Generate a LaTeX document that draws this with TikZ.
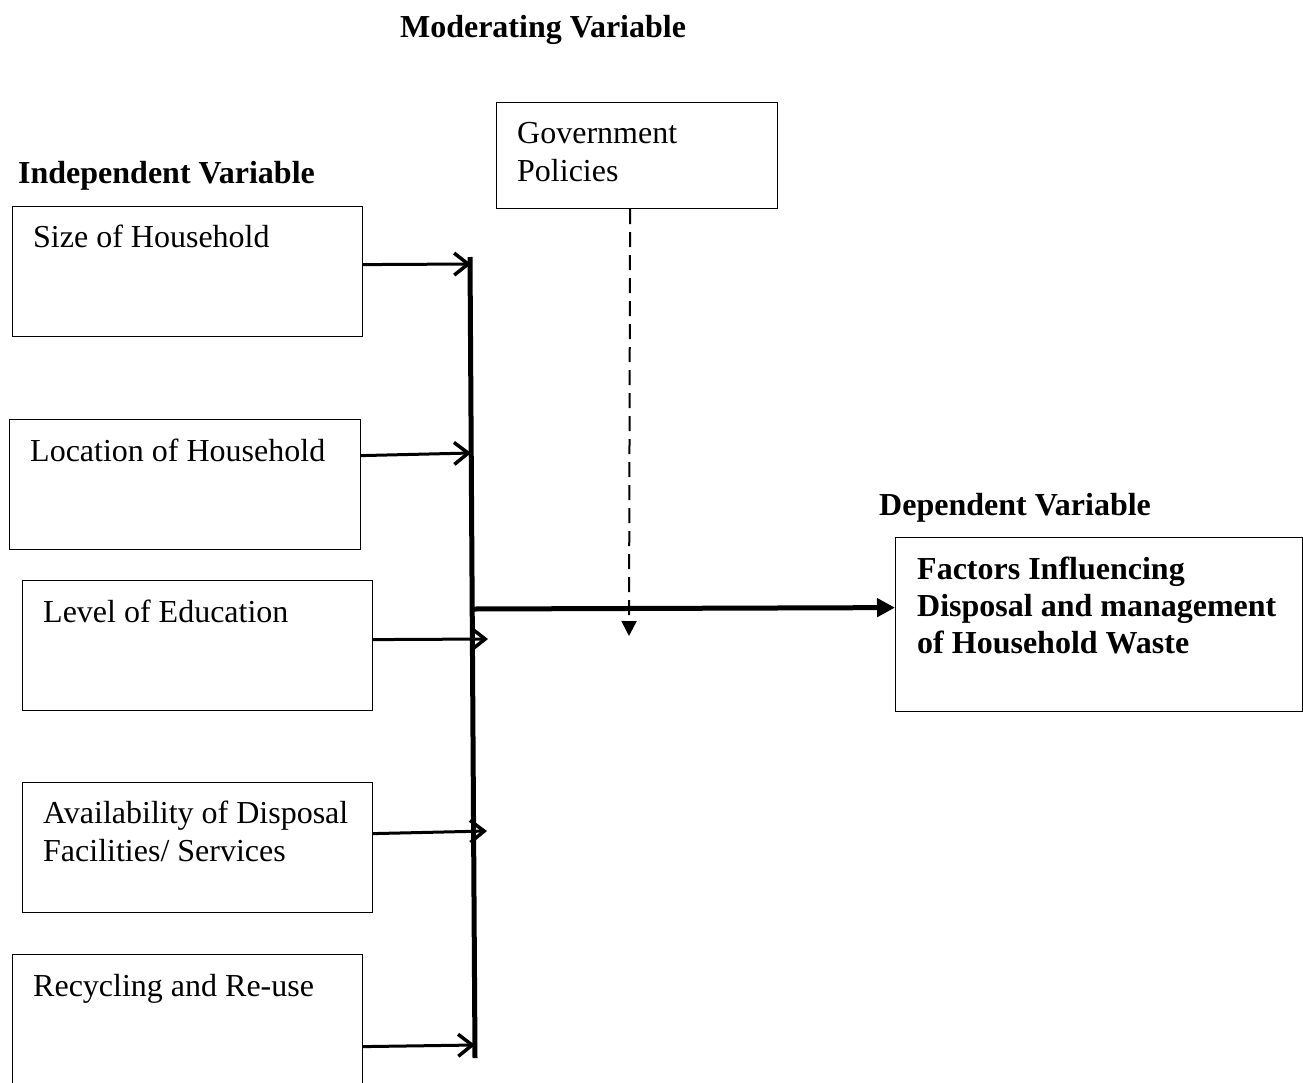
\documentclass[tikz,border=0pt]{standalone}
\usepackage{fontspec}
\setmainfont{Liberation Serif}
\usetikzlibrary{arrows.meta}
\begin{document}
\begin{tikzpicture}[x=1pt,y=-1pt,
  box/.style={draw=black,line width=1.2pt,minimum width=#1,anchor=north west,inner sep=0pt},
  txt/.style={anchor=base west,inner sep=0pt,font=\fontsize{32}{38}\selectfont},
  btxt/.style={txt,font=\fontsize{32}{38}\selectfont\bfseries},
  feed/.style={line width=3pt,-{Straight Barb[length=14pt,width=22pt,line width=3.5pt]}},
  trunk/.style={line width=5pt},
  main/.style={line width=5pt,-{Triangle[length=18pt,width=18pt]}},
  moder/.style={line width=2pt,dash pattern=on 15pt off 8pt,-{Triangle[length=15pt,width=15pt]}}
]
\useasboundingbox (0,0) rectangle (1303,1082);
\clip (0,0) rectangle (1303,1082);
\fill[white] (0,0) rectangle (1303,1082);

% headings
\node[btxt,anchor=base] (hmod) at (543,37) {Moderating Variable};
\node[btxt] (hind) at (18,183) {Independent Variable};
\node[btxt] (hdep) at (879,515) {Dependent Variable};

% boxes
\node[box=281pt,minimum height=106pt] (gov) at (496,102) {};
\node[box=350pt,minimum height=130pt] (b1) at (12,206) {};
\node[box=351pt,minimum height=130pt] (b2) at (9,419) {};
\node[box=350pt,minimum height=130pt] (b3) at (22,580) {};
\node[box=350pt,minimum height=130pt] (b4) at (22,782) {};
\node[box=350pt,minimum height=150pt] (b5) at (12,954) {};
\node[box=407pt,minimum height=174pt] (dep) at (895,537) {};

% texts
\node[txt] (tgov1) at (517,143) {Government};
\node[txt] (tgov2) at (517,181) {Policies};
\node[txt] (t1) at (33,247) {Size of Household};
\node[txt] (t2) at (30,461) {Location of Household};
\node[txt] (t3) at (43,622) {Level of Education};
\node[txt] (t4a) at (43,823) {Availability of Disposal};
\node[txt] (t4b) at (43,861) {Facilities/ Services};
\node[txt] (t5) at (33,996) {Recycling and Re-use};
\node[btxt] (td1) at (917,579) {Factors Influencing};
\node[btxt] (td2) at (917,616) {Disposal and management};
\node[btxt] (td3) at (917,653) {of Household Waste};

% trunk line
\coordinate (vtop) at (470,257);
\coordinate (vbot) at (475,1058);
\draw[trunk] (vtop) -- (vbot);

% feeder arrows
\coordinate (e1) at (471,264);
\coordinate (e2) at (471,453);
\coordinate (e3) at (488,639);
\coordinate (e4) at (487,831);
\coordinate (e5) at (475,1045);
\draw[feed] ([yshift=7pt]b1.east) -- (e1);
\draw[feed] ([yshift=29pt]b2.east) -- (e2);
\draw[feed] ([yshift=6pt]b3.east) -- (e3);
\draw[feed] ([yshift=14pt]b4.east) -- (e4);
\draw[feed] ([yshift=-17pt]b5.east) -- (e5);

% main arrow
\coordinate (hstart) at (473,609);
\draw[main] (hstart) -- ([yshift=17pt]dep.west);

% moderating dashed arrow
\coordinate (mend) at (629,636);
\draw[moder] ([xshift=-7pt]gov.south) -- (mend);
\end{tikzpicture}
\end{document}
